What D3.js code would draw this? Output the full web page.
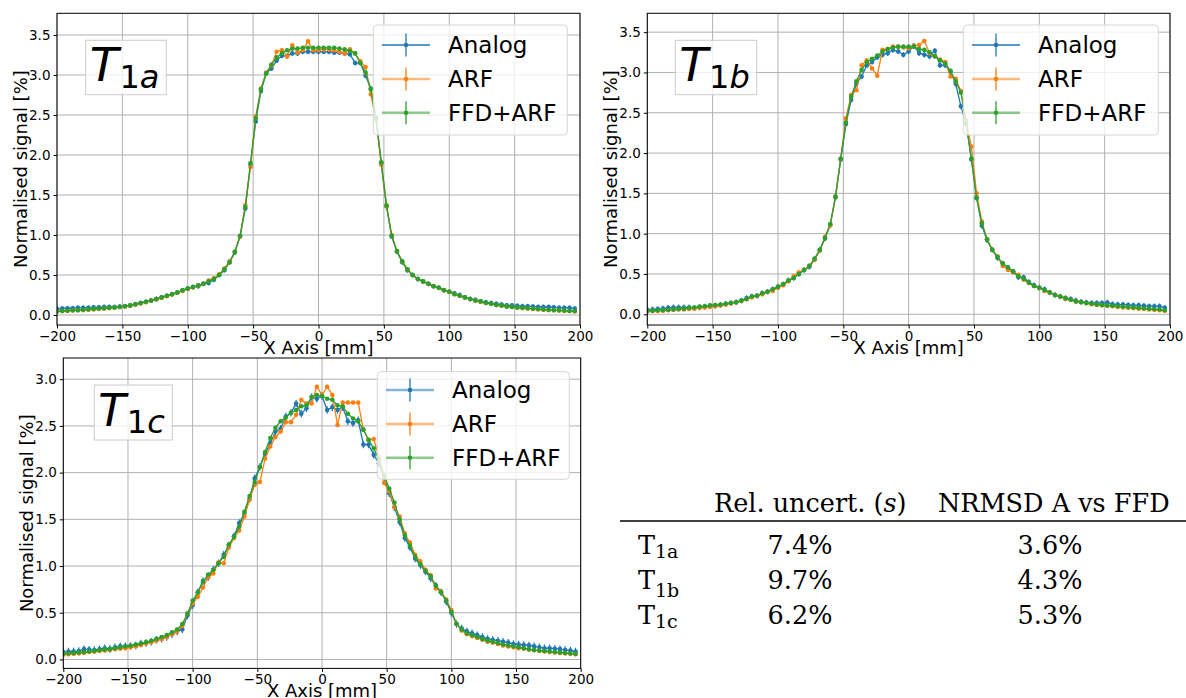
<!DOCTYPE html>
<html>
<head>
<meta charset="utf-8">
<script src="https://cdn.jsdelivr.net/npm/d3@7"></script>
<style>
  body { margin: 0; background: #fff; }
  text { font-family: "DejaVu Sans", sans-serif; }
</style>
</head>
<body>
<div id="chart"></div>
<script>
// sampling positions along the X axis (mm), one every 4 mm
var xPositions = d3.range(-200, 200, 4);

var seriesNames = ["Analog", "ARF", "FFD+ARF"];
var seriesColors = ["#1f77b4", "#ff7f0e", "#2ca02c"];

var xTicks = [-200, -150, -100, -50, 0, 50, 100, 150, 200];
var yTicksTop = [0, 0.5, 1, 1.5, 2, 2.5, 3, 3.5];
var yTicksBottom = [0, 0.5, 1, 1.5, 2, 2.5, 3];

// T1a
var t1aAnalog = [0.075,0.08,0.085,0.085,0.09,0.09,0.09,0.095,0.095,0.10,
  0.10,0.10,0.105,0.11,0.12,0.135,0.15,0.165,0.18,0.20,
  0.22,0.24,0.26,0.28,0.31,0.33,0.35,0.36,0.39,0.40,
  0.44,0.50,0.56,0.66,0.78,0.98,1.33,1.88,2.42,2.80,
  3.02,3.08,3.18,3.24,3.24,3.27,3.27,3.29,3.29,3.29,
  3.29,3.29,3.29,3.28,3.28,3.27,3.26,3.15,3.15,2.99,
  2.83,2.46,1.90,1.36,0.98,0.79,0.66,0.56,0.50,0.45,
  0.42,0.39,0.36,0.34,0.31,0.29,0.27,0.25,0.22,0.20,
  0.19,0.17,0.16,0.15,0.14,0.13,0.12,0.12,0.115,0.11,
  0.11,0.105,0.10,0.10,0.10,0.095,0.09,0.09,0.09,0.08];
var t1aARF = [0.045,0.05,0.05,0.055,0.06,0.06,0.065,0.07,0.075,0.08,
  0.085,0.09,0.10,0.105,0.115,0.13,0.145,0.16,0.18,0.195,
  0.215,0.235,0.255,0.28,0.30,0.325,0.345,0.37,0.39,0.43,
  0.46,0.51,0.58,0.67,0.79,0.98,1.37,1.85,2.48,2.83,
  3.03,3.12,3.29,3.31,3.23,3.37,3.28,3.31,3.42,3.31,
  3.31,3.32,3.32,3.31,3.29,3.27,3.32,3.27,3.17,3.10,
  2.76,2.44,1.88,1.36,1.00,0.80,0.67,0.57,0.50,0.45,
  0.42,0.39,0.36,0.34,0.31,0.29,0.26,0.24,0.22,0.20,
  0.18,0.165,0.15,0.14,0.125,0.115,0.105,0.10,0.09,0.085,
  0.08,0.075,0.07,0.065,0.06,0.06,0.055,0.05,0.05,0.045];
var t1aFFD = [0.05,0.05,0.055,0.06,0.06,0.065,0.07,0.075,0.08,0.085,
  0.09,0.095,0.10,0.11,0.12,0.135,0.15,0.165,0.18,0.20,
  0.22,0.24,0.26,0.28,0.31,0.33,0.35,0.37,0.39,0.42,
  0.45,0.50,0.57,0.66,0.79,0.99,1.35,1.90,2.46,2.82,
  3.02,3.13,3.22,3.27,3.31,3.33,3.33,3.34,3.34,3.34,
  3.34,3.34,3.34,3.34,3.33,3.32,3.30,3.27,3.15,3.03,
  2.82,2.46,1.91,1.37,0.99,0.80,0.67,0.57,0.50,0.45,
  0.42,0.39,0.36,0.34,0.31,0.29,0.26,0.24,0.22,0.20,
  0.18,0.17,0.15,0.14,0.125,0.12,0.105,0.10,0.095,0.09,
  0.085,0.08,0.075,0.07,0.065,0.06,0.06,0.055,0.05,0.05];

// T1b
var t1bAnalog = [0.055,0.06,0.065,0.07,0.08,0.085,0.085,0.085,0.085,0.08,
  0.085,0.095,0.10,0.105,0.115,0.13,0.14,0.15,0.17,0.20,
  0.22,0.23,0.26,0.28,0.31,0.34,0.37,0.42,0.45,0.50,
  0.55,0.59,0.68,0.80,0.94,1.11,1.45,1.92,2.36,2.66,
  2.86,2.95,3.09,3.13,3.19,3.22,3.24,3.28,3.26,3.22,
  3.26,3.33,3.24,3.22,3.20,3.27,3.09,3.09,3.01,2.86,
  2.58,2.37,1.92,1.45,1.10,0.92,0.80,0.70,0.63,0.58,
  0.53,0.46,0.46,0.40,0.36,0.33,0.31,0.27,0.24,0.22,
  0.20,0.19,0.17,0.155,0.145,0.14,0.14,0.14,0.145,0.125,
  0.12,0.12,0.115,0.11,0.11,0.105,0.10,0.10,0.10,0.08];
var t1bARF = [0.035,0.04,0.04,0.045,0.05,0.055,0.06,0.06,0.065,0.07,
  0.08,0.085,0.09,0.10,0.11,0.12,0.135,0.15,0.165,0.185,
  0.21,0.23,0.25,0.28,0.29,0.33,0.36,0.41,0.47,0.52,
  0.55,0.60,0.68,0.79,0.96,1.10,1.46,1.93,2.43,2.72,
  2.78,3.09,3.15,3.05,2.96,3.28,3.29,3.32,3.32,3.31,
  3.30,3.33,3.34,3.39,3.24,3.20,3.16,3.13,2.95,2.92,
  2.77,2.40,2.08,1.50,1.15,0.93,0.80,0.72,0.60,0.55,
  0.52,0.49,0.43,0.39,0.35,0.33,0.29,0.27,0.24,0.22,
  0.19,0.18,0.16,0.15,0.14,0.125,0.115,0.11,0.105,0.10,
  0.09,0.085,0.08,0.075,0.07,0.065,0.06,0.055,0.05,0.045];
var t1bFFD = [0.04,0.045,0.05,0.05,0.055,0.06,0.065,0.07,0.08,0.085,
  0.095,0.10,0.11,0.115,0.12,0.13,0.14,0.15,0.17,0.19,
  0.22,0.23,0.26,0.28,0.31,0.34,0.375,0.42,0.45,0.50,
  0.55,0.60,0.69,0.80,0.95,1.12,1.46,1.93,2.38,2.70,
  2.89,3.03,3.13,3.17,3.21,3.26,3.29,3.31,3.32,3.32,
  3.32,3.32,3.29,3.28,3.25,3.20,3.15,3.11,3.02,2.89,
  2.75,2.37,1.93,1.44,1.13,0.93,0.80,0.71,0.63,0.58,
  0.53,0.47,0.44,0.39,0.35,0.33,0.30,0.27,0.24,0.22,
  0.20,0.18,0.16,0.15,0.14,0.13,0.12,0.115,0.11,0.105,
  0.10,0.095,0.09,0.085,0.08,0.075,0.07,0.065,0.06,0.05];

// T1c
var t1cAnalog = [0.08,0.085,0.085,0.09,0.11,0.105,0.10,0.11,0.12,0.115,
  0.13,0.14,0.14,0.145,0.15,0.17,0.175,0.19,0.21,0.22,
  0.24,0.27,0.30,0.32,0.47,0.58,0.72,0.84,0.88,0.96,
  1.03,1.12,1.22,1.32,1.46,1.56,1.72,1.94,2.06,2.20,
  2.31,2.44,2.47,2.60,2.64,2.74,2.63,2.69,2.81,2.79,
  2.82,2.67,2.70,2.67,2.70,2.55,2.53,2.56,2.30,2.30,
  2.19,2.10,1.94,1.78,1.63,1.47,1.30,1.20,1.08,1.01,
  0.94,0.87,0.79,0.72,0.62,0.50,0.38,0.33,0.30,0.28,
  0.26,0.24,0.22,0.21,0.20,0.19,0.18,0.165,0.16,0.155,
  0.15,0.14,0.13,0.12,0.12,0.115,0.11,0.10,0.095,0.085];
var t1cARF = [0.05,0.055,0.06,0.065,0.07,0.08,0.085,0.09,0.095,0.10,
  0.11,0.115,0.12,0.13,0.14,0.155,0.17,0.185,0.20,0.22,
  0.24,0.27,0.30,0.36,0.49,0.60,0.67,0.77,0.88,0.92,
  1.04,1.03,1.20,1.30,1.38,1.53,1.71,1.87,1.90,2.15,
  2.28,2.38,2.44,2.54,2.54,2.62,2.78,2.74,2.74,2.92,
  2.83,2.92,2.83,2.51,2.75,2.75,2.75,2.75,2.46,2.35,
  2.36,2.17,1.89,1.80,1.63,1.53,1.35,1.25,1.12,1.05,
  0.96,0.90,0.76,0.73,0.64,0.53,0.38,0.31,0.27,0.25,
  0.23,0.21,0.19,0.18,0.165,0.15,0.14,0.13,0.12,0.115,
  0.105,0.10,0.09,0.085,0.08,0.075,0.07,0.065,0.06,0.055];
var t1cFFD = [0.06,0.065,0.07,0.075,0.08,0.085,0.09,0.10,0.105,0.11,
  0.12,0.13,0.14,0.146,0.16,0.17,0.185,0.20,0.22,0.24,
  0.26,0.29,0.32,0.38,0.49,0.63,0.72,0.83,0.91,0.96,
  1.03,1.10,1.23,1.31,1.42,1.58,1.75,1.90,2.06,2.22,
  2.37,2.48,2.55,2.59,2.64,2.67,2.71,2.72,2.81,2.83,
  2.82,2.79,2.78,2.72,2.71,2.63,2.58,2.55,2.46,2.35,
  2.26,2.14,1.97,1.83,1.68,1.50,1.33,1.22,1.10,1.02,
  0.95,0.89,0.79,0.72,0.63,0.51,0.38,0.32,0.28,0.26,
  0.24,0.22,0.20,0.19,0.175,0.16,0.15,0.14,0.13,0.12,
  0.11,0.10,0.095,0.09,0.085,0.08,0.075,0.07,0.065,0.06];

// half length of the error bars, per series (Analog, ARF, FFD+ARF)
var errT1a = [0.03, 0.02, 0.015];
var errT1b = [0.035, 0.02, 0.015];
var errT1c = [0.04, 0.02, 0.015];

// table
var tableHeader = ["Rel. uncert. (", "s", ")", "NRMSD A vs FFD"];
var tableSubs = ["1a", "1b", "1c"];
var relUncert = ["7.4%", "9.7%", "6.2%"];
var nrmsd = ["3.6%", "4.3%", "5.3%"];

var svg = d3.select("#chart")
  .append("svg")
  .attr("width", 1186)
  .attr("height", 698);

var panels = [
  {id: "a", sub: ["1", "a"], values: [t1aAnalog, t1aARF, t1aFFD], err: errT1a,
   left: 57, right: 580, top: 13.3, bottom: 325, yDomain: [-0.125, 3.771], yTicks: yTicksTop,
   ylabelX: 26.7, labelBox: [85.7, 40.3, 80.6, 54.4], tSize: 47, legend: [373.3, 25, 194, 110], legendRows: [20, 54, 87.7]},
  {id: "b", sub: ["1", "b"], values: [t1bAnalog, t1bARF, t1bFFD], err: errT1b,
   left: 647.3, right: 1170, top: 13.3, bottom: 325, yDomain: [-0.133, 3.734], yTicks: yTicksTop,
   ylabelX: 616.7, labelBox: [675.3, 40.3, 81.4, 54.4], tSize: 47, legend: [963.3, 25, 195, 110], legendRows: [20, 54, 87.7]},
  {id: "c", sub: ["1", "c"], values: [t1cAnalog, t1cARF, t1cFFD], err: errT1c,
   left: 63.3, right: 580.7, top: 358, bottom: 668.4, yDomain: [-0.096, 3.227], yTicks: yTicksBottom,
   ylabelX: 33, labelBox: [94.3, 385, 78, 55], tSize: 45, legend: [377.3, 371.7, 192, 107.6], legendRows: [18.3, 52.3, 86]}
];

panels.forEach(function(p) {
  var x = d3.scaleLinear().domain([-200, 200]).range([p.left, p.right]);
  var y = d3.scaleLinear().domain(p.yDomain).range([p.bottom, p.top]);
  var g = svg.append("g");

  g.append("clipPath").attr("id", "clip-" + p.id)
    .append("rect")
    .attr("x", p.left).attr("y", p.top)
    .attr("width", p.right - p.left).attr("height", p.bottom - p.top);

  // grid
  g.append("g").selectAll("line").data(xTicks).join("line")
    .attr("x1", d => x(d)).attr("x2", d => x(d))
    .attr("y1", p.top).attr("y2", p.bottom)
    .attr("stroke", "#b0b0b0").attr("stroke-width", 1);
  g.append("g").selectAll("line").data(p.yTicks).join("line")
    .attr("x1", p.left).attr("x2", p.right)
    .attr("y1", d => y(d)).attr("y2", d => y(d))
    .attr("stroke", "#b0b0b0").attr("stroke-width", 1);

  // series
  var plot = g.append("g").attr("clip-path", "url(#clip-" + p.id + ")");
  p.values.forEach(function(vals, si) {
    var pts = vals.map((v, i) => ({x: xPositions[i], y: v}));
    var e = p.err[si];
    var sg = plot.append("g");
    sg.selectAll("line").data(pts).join("line")
      .attr("x1", d => x(d.x)).attr("x2", d => x(d.x))
      .attr("y1", d => y(d.y - e)).attr("y2", d => y(d.y + e))
      .attr("stroke", seriesColors[si]).attr("stroke-width", 1.2);
    sg.append("path")
      .datum(pts)
      .attr("d", d3.line().x(d => x(d.x)).y(d => y(d.y)))
      .attr("fill", "none")
      .attr("stroke", seriesColors[si])
      .attr("stroke-width", 1.3);
    sg.selectAll("circle").data(pts).join("circle")
      .attr("cx", d => x(d.x)).attr("cy", d => y(d.y))
      .attr("r", 2.3)
      .attr("fill", seriesColors[si]);
  });

  // frame
  g.append("rect")
    .attr("x", p.left).attr("y", p.top)
    .attr("width", p.right - p.left).attr("height", p.bottom - p.top)
    .attr("fill", "none").attr("stroke", "#000").attr("stroke-width", 1);

  // axes
  var ax = g.append("g")
    .attr("transform", `translate(0,${p.bottom})`)
    .call(d3.axisBottom(x).tickValues(xTicks).tickSize(3.5).tickSizeOuter(0).tickFormat(d3.format("d")));
  var ay = g.append("g")
    .attr("transform", `translate(${p.left},0)`)
    .call(d3.axisLeft(y).tickValues(p.yTicks).tickSize(3.5).tickSizeOuter(0).tickFormat(d3.format(".1f")));
  [ax, ay].forEach(function(a) {
    a.select(".domain").remove();
    a.selectAll("text").style("font-family", "DejaVu Sans").style("font-size", "13.5px").attr("fill", "#000");
    a.selectAll("line").attr("stroke", "#000");
  });

  // axis labels
  g.append("text")
    .attr("x", (p.left + p.right) / 2).attr("y", p.bottom + 28.5)
    .attr("text-anchor", "middle")
    .style("font-size", "18px")
    .text("X Axis [mm]");
  g.append("text")
    .attr("transform", `translate(${p.ylabelX},${(p.top + p.bottom) / 2}) rotate(-90)`)
    .attr("text-anchor", "middle")
    .style("font-size", "18px")
    .text("Normalised signal [%]");

  // T label box
  var lb = p.labelBox;
  g.append("rect")
    .attr("x", lb[0]).attr("y", lb[1]).attr("width", lb[2]).attr("height", lb[3])
    .attr("fill", "#fff").attr("fill-opacity", 0.8)
    .attr("stroke", "#cccccc").attr("stroke-width", 1);
  var lt = g.append("text")
    .attr("x", lb[0] + 4).attr("y", lb[1] + 40.7);
  lt.append("tspan").style("font-size", p.tSize + "px").style("font-style", "italic").text("T");
  lt.append("tspan").style("font-size", "32px").attr("dy", 7.3).attr("dx", 1).text(p.sub[0]);
  lt.append("tspan").style("font-size", "32px").style("font-style", "italic").text(p.sub[1]);

  // legend
  var lg = p.legend;
  var leg = g.append("g");
  leg.append("rect")
    .attr("x", lg[0]).attr("y", lg[1]).attr("width", lg[2]).attr("height", lg[3])
    .attr("rx", 4)
    .attr("fill", "#fff").attr("fill-opacity", 0.8)
    .attr("stroke", "#d6d6d6").attr("stroke-width", 1);
  seriesNames.forEach(function(name, si) {
    var cy = lg[1] + p.legendRows[si];
    var x0 = lg[0] + 8.7, x1 = lg[0] + 56.7, xm = (x0 + x1) / 2;
    leg.append("line")
      .attr("x1", x0).attr("x2", x1).attr("y1", cy).attr("y2", cy)
      .attr("stroke", seriesColors[si])
      .attr("stroke-width", si === 0 && p.id !== "c" ? 1.3 : 2.4)
      .attr("stroke-opacity", si === 0 && p.id !== "c" ? 1 : 0.55);
    leg.append("line")
      .attr("x1", xm).attr("x2", xm).attr("y1", cy - 11.5).attr("y2", cy + 11.5)
      .attr("stroke", seriesColors[si]).attr("stroke-width", 1.3);
    leg.append("circle").attr("cx", xm).attr("cy", cy).attr("r", 2.3).attr("fill", seriesColors[si]);
    leg.append("text")
      .attr("x", lg[0] + 74.7).attr("y", cy).attr("dy", "0.36em")
      .style("font-size", "23px")
      .text(name);
  });
});

// table
var tab = svg.append("g").style("font-size", "25.5px");
var h1 = tab.append("text").attr("x", 714).attr("y", 512).style("font-family", "DejaVu Serif");
h1.append("tspan").text(tableHeader[0]);
h1.append("tspan").style("font-style", "italic").text(tableHeader[1]);
h1.append("tspan").text(tableHeader[2]);
tab.append("text").attr("x", 938).attr("y", 512).style("font-family", "DejaVu Serif").text(tableHeader[3]);
tab.append("line")
  .attr("x1", 620).attr("x2", 1186).attr("y1", 521).attr("y2", 521)
  .attr("stroke", "#000").attr("stroke-width", 1.4);

var rowBase = [554, 589, 624];
var subDrop = [4, 8, 4];
tableSubs.forEach(function(s, i) {
  var t = tab.append("text").attr("x", 638).attr("y", rowBase[i]).style("font-family", "DejaVu Serif");
  t.append("tspan").text("T");
  t.append("tspan").attr("dy", subDrop[i]).style("font-size", "19px").text(s);
  tab.append("text").attr("x", 800).attr("y", rowBase[i]).attr("text-anchor", "middle")
    .style("font-family", "DejaVu Serif").text(relUncert[i]);
  tab.append("text").attr("x", 1050).attr("y", rowBase[i]).attr("text-anchor", "middle")
    .style("font-family", "DejaVu Serif").text(nrmsd[i]);
});
</script>
</body>
</html>
